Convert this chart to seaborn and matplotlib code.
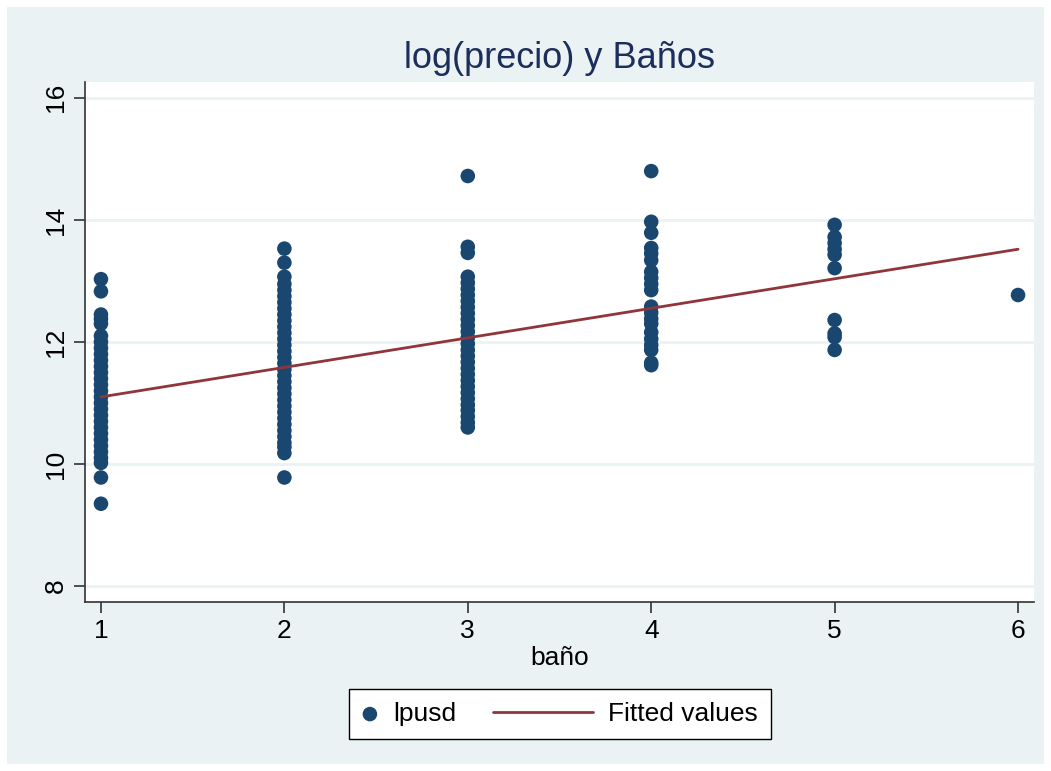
import numpy as np
import pandas as pd
import seaborn as sns
import matplotlib.pyplot as plt
from matplotlib.patches import Rectangle
from matplotlib.lines import Line2D
from matplotlib.legend_handler import HandlerLine2D

# lpusd values, grouped by number of bathrooms
bano1 = [13.03, 12.83, 12.45, 12.38, 12.30, 12.10, 12.0, 11.9, 11.8, 11.7, 11.6, 11.5,
         11.4, 11.3, 11.2, 11.1, 11.0, 10.9, 10.8, 10.7, 10.6, 10.5, 10.4, 10.3, 10.2,
         10.1, 10.02, 9.78, 9.35]
bano2 = [13.53, 13.30, 13.07, 12.95, 12.85, 12.75, 12.65, 12.55, 12.45, 12.35, 12.25,
         12.15, 12.05, 11.95, 11.85, 11.75, 11.65, 11.55, 11.45, 11.35, 11.25, 11.15,
         11.05, 10.95, 10.85, 10.75, 10.65, 10.55, 10.45, 10.35, 10.28, 10.18, 9.78]
bano3 = [14.72, 13.56, 13.46, 13.07, 12.97, 12.87, 12.77, 12.67, 12.57, 12.47, 12.37,
         12.27, 12.17, 12.07, 11.97, 11.87, 11.77, 11.67, 11.57, 11.47, 11.37, 11.27,
         11.17, 11.07, 10.97, 10.88, 10.78, 10.68, 10.60]
bano4 = [14.80, 13.97, 13.79, 13.54, 13.45, 13.34, 13.15, 13.05, 12.95, 12.85, 12.58,
         12.48, 12.38, 12.30, 12.16, 12.05, 11.95, 11.87, 11.66, 11.62]
bano5 = [13.92, 13.72, 13.62, 13.52, 13.43, 13.21, 12.36, 12.14, 12.08, 11.87]
bano6 = [12.77]

fit_x = [1, 6]
fit_y = [11.10, 13.52]

xticks = [1, 2, 3, 4, 5, 6]
yticks = [8, 10, 12, 14, 16]

groups = [bano1, bano2, bano3, bano4, bano5, bano6]
df = pd.DataFrame({
    "bano": np.concatenate([[i + 1] * len(g) for i, g in enumerate(groups)]),
    "lpusd": np.concatenate(groups),
})
fit = pd.DataFrame({"bano": fit_x, "fitted": fit_y})


# stata-like legend: short slot for the dot, long line reaching back into the gap
class LongLine(HandlerLine2D):
    def create_artists(self, legend, orig_handle, xdescent, ydescent, width, height,
                       fontsize, trans):
        ext = 3.2 * fontsize
        y = (height - ydescent) / 2.0
        line = Line2D([-xdescent - ext, -xdescent + width], [y, y])
        self.update_prop(line, orig_handle, legend)
        line.set_transform(trans)
        return [line]


sns.set_style("ticks")
plt.rcParams["font.family"] = ["Liberation Sans", "DejaVu Sans"]
plt.rcParams["text.color"] = "black"

W, H = 1051, 771
fig = plt.figure(figsize=(W / 100, H / 100), dpi=100, facecolor="white")
fig.patches.append(Rectangle((7 / W, 7 / H), 1037 / W, 757 / H, transform=fig.transFigure,
                             facecolor="#EAF2F3", edgecolor="none", zorder=-10))

ax = fig.add_axes([85 / W, 1 - 602 / H, (1034 - 85) / W, (602 - 82) / H])
ax.set_facecolor("white")

sns.scatterplot(data=df, x="bano", y="lpusd", ax=ax, color="#1A476F", s=110,
                edgecolor="none", label="lpusd", zorder=3)
sns.lineplot(data=fit, x="bano", y="fitted", ax=ax, color="#90353B", linewidth=2,
             label="Fitted values", zorder=4)

ax.set_xlim(0.913, 6.087)
ax.set_ylim(7.74, 16.26)
ax.set_xticks(xticks)
ax.set_yticks(yticks)
ax.yaxis.grid(True, color="#EAF2F3", linewidth=2)
ax.xaxis.grid(False)
ax.set_axisbelow(True)

for s in ["top", "right"]:
    ax.spines[s].set_visible(False)
for s in ["left", "bottom"]:
    ax.spines[s].set_color("#333333")
    ax.spines[s].set_linewidth(1.2)

ax.tick_params(axis="both", length=8, width=1.2, color="#333333", labelsize=19, pad=4,
               labelcolor="black")
ax.tick_params(axis="y", labelrotation=90)
for lab in ax.get_yticklabels():
    lab.set_va("center")

ax.set_ylabel("")
ax.set_xlabel("baño", fontsize=19, color="black")
ax.xaxis.set_label_coords(0.5, -0.085)

fig.text(560 / W, 1 - 58 / H, "log(precio) y Baños", fontsize=26, color="#1C2E5C",
         ha="center", va="center")

handles, labels = ax.get_legend_handles_labels()
ax.get_legend().remove()
leg = fig.legend(handles, labels, loc="center", bbox_to_anchor=(560 / W, 1 - 714 / H),
                 ncol=2, fontsize=19, frameon=True, fancybox=False, handlelength=0.6,
                 columnspacing=4.6, borderpad=0.5, handletextpad=0.57,
                 handler_map={Line2D: LongLine()})
leg.get_frame().set_edgecolor("black")
leg.get_frame().set_facecolor("white")
leg.get_frame().set_alpha(1)
leg.get_frame().set_linewidth(1.0)

fig.savefig("out.png", dpi=100, facecolor="white")
